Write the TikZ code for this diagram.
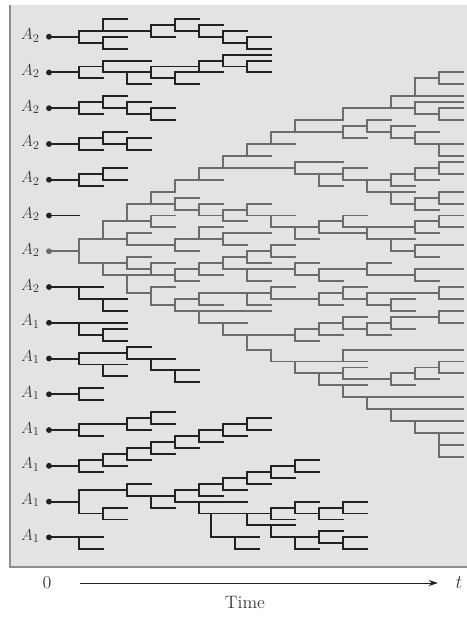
\documentclass[tikz,border=0pt]{standalone}
\usetikzlibrary{arrows.meta}
\definecolor{bgc}{HTML}{E3E3E3}
\definecolor{bordc}{HTML}{8E8E8E}
\definecolor{darkln}{HTML}{222222}
\definecolor{grayln}{HTML}{6C6C6C}
\definecolor{txtc}{HTML}{3A3A3A}
\tikzset{
  lnk/.style={line width=1.45pt, line cap=rect},
  dotn/.style={circle, fill=darkln, inner sep=0pt, minimum size=4.4pt},
  graydot/.style={circle, fill=grayln, inner sep=0pt, minimum size=4.4pt},
  lbl/.style={anchor=base east, inner sep=0pt, text=txtc, font=\fontsize{13}{15}\selectfont},
  axt/.style={text=txtc, font=\fontsize{13.5}{16}\selectfont, inner sep=0pt}
}
\begin{document}
\begin{tikzpicture}[x=0.75pt,y=-0.75pt]
\useasboundingbox (0,0) rectangle (467,618);
\fill[bgc] (10,5) rectangle (472,567);
\draw[bordc, line width=1.5pt] (10,5) -- (10,567) -- (472,567);
% dark lineages
\begin{scope}[color=darkln, lnk]
\foreach \xa/\xb/\yy in {
-1.25/0/0, 0/3/-1, 1/2/-3, 0/1/1, 1/2/0, 1/2/2, 3/4/-2, 3/4/0, 4/5/-3, 4/5/-1, 5/6/-2, 5/6/0, 6/7/-1, 6/7/1, 7/8/0, 7/8/2,
-1.25/0/6, 0/1/7, 0/1/5, 1/3/4, 1/2/6, 2/3/8, 2/3/6, 3/5/5, 3/4/7, 4/5/6, 4/5/8, 5/6/6, 5/6/4, 6/8/3, 6/7/5, 7/8/4, 7/8/6,
-1.25/0/12, 0/1/13, 0/1/11, 1/2/10, 1/2/12, 2/3/11, 2/3/13, 3/4/12, 3/4/14,
-1.25/0/18, 0/1/19, 0/1/17, 1/2/16, 1/2/18, 2/3/17, 2/3/19,
-1.25/0/24, 0/1/25, 0/1/23, 1/2/22, 1/2/24,
-1.25/0/30,
-1.25/0/42, 0/1/42, 0/2/44, 1/2/46,
-1.25/2/48, 0/1/50, 1/2/49, 1/2/51,
-1.25/0/54, 0/2/53, 2/3/52, 2/4/54, 3/5/56, 4/5/58, 0/1/55, 1/2/55, 1/2/57,
-1.25/0/60, 0/1/59, 0/1/61,
-1.25/0/66, 0/2/65, 0/1/67, 2/3/64, 2/3/66, 3/4/63, 3/4/65,
-1.25/0/72, 0/1/71, 0/1/73, 1/2/70, 1/2/72, 2/3/69, 2/3/71, 3/4/68, 3/4/70, 4/5/67, 4/5/69, 5/6/66, 5/6/68, 6/7/65, 6/7/67, 7/8/64, 7/8/66,
-1.25/0/78, 0/2/76, 2/3/75, 2/3/77, 3/4/77, 3/4/79, 4/5/76, 4/7/78, 5/6/75, 5/6/77, 6/7/74, 6/7/76, 7/8/73, 7/8/75, 8/9/72, 8/9/74, 9/10/71, 9/10/73, 0/1/80, 1/2/79, 1/2/81, 5/5.5/80, 5.5/7/80, 5.5/6.5/84, 6.5/7.5/84, 6.5/7.5/86, 7/8/80, 7/9/82, 8/9/79, 8/9/81, 9/10/78, 9/10/80, 10/11/79, 10/11/81, 11/12/78, 11/12/80, 8/9/84, 9/10/84, 9/10/86, 10/11/83, 10/11/85, 11/12/84, 11/12/86,
-1.25/0/84, 0/1/84, 0/1/86}
{\draw ({79+24*(\xa)},{36.7+5.96*(\yy)}) -- ({79+24*(\xb)},{36.7+5.96*(\yy)});}
\foreach \xc/\ya/\yb in {
0/-1/1, 1/-3/-1, 1/0/2, 3/-2/0, 4/-3/-1, 5/-2/0, 6/-1/1, 7/0/2,
0/5/7, 1/4/6, 2/6/8, 3/5/7, 4/6/8, 5/4/6, 6/3/5, 7/4/6,
0/11/13, 1/10/12, 2/11/13, 3/12/14,
0/17/19, 1/16/18, 2/17/19,
0/23/25, 1/22/24,
0/42/44, 1/44/46,
0/48/50, 1/49/51,
0/53/55, 2/52/54, 3/54/56, 4/56/58, 1/55/57,
0/59/61,
0/65/67, 2/64/66, 3/63/65,
0/71/73, 1/70/72, 2/69/71, 3/68/70, 4/67/69, 5/66/68, 6/65/67, 7/64/66,
0/76/80, 2/75/77, 3/77/79, 4/76/78, 5/75/77, 6/74/76, 7/73/75, 8/72/74, 9/71/73, 1/79/81, 5/78/80, 5.5/80/84, 6.5/84/86, 7/80/82, 8/79/81, 9/78/80, 10/79/81, 11/78/80, 8/82/84, 9/84/86, 10/83/85, 11/84/86,
0/84/86}
{\draw ({79+24*(\xc)},{36.7+5.96*(\ya)}) -- ({79+24*(\xc)},{36.7+5.96*(\yb)});}
\end{scope}
% gray lineage (the one that spreads)
\begin{scope}[color=grayln, lnk]
\foreach \xa/\xb/\yy in {
-1.25/0/36,
0/1/34, 1/2/31, 2/3/28, 3/4/26, 4/5/24, 5/6/22, 6/7/20, 7/8/18, 8/9/16, 9/11/14,
9/11/16, 8/9/18, 7/8/20, 6/9/22, 5/6/24,
3/4/28, 4/5/27, 4/5/29, 5/6/28, 5/6/30, 6/7/29, 6/7/31, 7/8/28, 7/8/30, 8/9/30, 8/9/32, 9/10/32, 9/10/34, 10/11/31, 10/12/33, 11/12/30, 11/14/32, 14/15/31, 15/16/30, 15/16/32, 14/15/33, 12/13/34, 13/14/34, 13/14/36, 14/16/35, 14/15/37,
2/3/31, 3/4/30, 3/4/32,
1/2/34, 2/3/33, 2/4/35, 4/6/34, 4/5/36, 5/6/32, 6/8/33, 6/7/35,
0/1/38, 1/2/38, 1/2/40, 2/3/37, 2/3/39, 2/3/40, 2/3/43, 3/4/38, 3/4/40, 3/4/42, 3/4/45,
4/5/39, 4/5/41, 5/6/38, 5/6/40, 6/7/37, 6/9/39, 7/8/36, 7/8/38, 8/9/35, 8/9/37, 7/8/41,
9/10/38, 9/10/40, 10/12/39, 10/11/41, 12/13/38, 12/14/40, 14/16/39, 14/15/41,
4/5/44, 4/8/46, 5/7/43, 7/8/43, 7/8/45, 5/6/45, 8/9/42, 8/10/44, 10/11/43, 10/11/45, 11/12/42, 11/12/44, 12/15/43, 15/16/42, 15/16/44, 12/13/45, 13/14/44, 13/14/46,
5/7/48, 6/9/50, 9/10/49, 9/10/51, 10/11/48, 10/11/50, 11/12/47, 11/12/49, 12/13/48, 12/13/50, 13/15/47, 15/16/46, 15/16/48, 13/14/49,
7/8/52.5, 8/12/54.5, 11/16/52.5, 9/11/56.5, 11/12/55.5, 11/13/57.5, 13/14/56.5, 14/15/55.5, 15/16/54.5, 15/16/56.5, 14/15/57.5, 13/14/58.5, 10/12/58.5, 11/16/60.5, 12/16/62.5, 13/16/64.5, 14/16/66.5, 15/16/68.5, 15/16/70.5,
9/11/21, 9/11/23, 10/11/25, 11/12/22, 11/12/24, 12/13/24, 13/14/23, 14/15/22, 15/16/21, 15/16/23, 14/15/24, 13/14/25, 12/13/26, 13/14/26, 13/14/28, 14/15/27, 15/16/26, 15/16/28, 14/15/29,
11/12/15, 11/12/17, 12/13/14, 12/13/16, 13/14/15, 13/14/17, 14/15/16, 14/16/18, 15/16/20,
11/13/12, 13/16/10, 13/14/12, 14/16/11, 14/15/13, 15/16/12, 15/16/14, 14/15/7, 15/16/6, 15/16/8}
{\draw ({79+24*(\xa)},{36.7+5.96*(\yy)}) -- ({79+24*(\xb)},{36.7+5.96*(\yy)});}
\foreach \xc/\ya/\yb in {
0/34/38, 1/31/34, 2/28/31, 3/26/28, 4/24/26, 5/22/24, 6/20/22, 7/18/20, 8/16/18, 9/14/16,
4/27/29, 5/28/30, 6/29/31, 7/28/30, 8/30/32, 9/32/34, 10/31/33, 11/30/32, 14/31/33, 15/30/32, 12/32/34, 13/34/36, 14/35/37,
3/30/32, 2/33/35, 4/34/36, 5/32/34, 6/33/35,
1/38/40, 2/37/39, 2/40/43, 3/38/40, 3/42/45, 4/39/41, 5/38/40, 6/37/39, 7/36/38, 8/35/37, 7/39/41,
9/38/40, 10/39/41, 12/38/40, 14/39/41,
4/44/46, 5/43/45, 7/43/45, 8/42/44, 10/43/45, 11/42/44, 12/43/45, 15/42/44, 13/44/46,
5/46/48, 6/48/50, 9/49/51, 10/48/50, 11/47/49, 12/48/50, 13/47/49, 15/46/48,
7/50/52.5, 8/52.5/54.5, 11/52.5/54.5, 9/54.5/56.5, 11/55.5/57.5, 13/56.5/58.5, 14/55.5/57.5, 15/54.5/56.5, 10/56.5/58.5, 11/58.5/60.5, 12/60.5/62.5, 13/62.5/64.5, 14/64.5/66.5, 15/66.5/70.5,
9/21/23, 10/23/25, 11/22/24, 12/24/26, 13/23/25, 14/22/24, 15/21/23, 13/26/28, 14/27/29, 15/26/28,
11/15/17, 12/14/16, 13/15/17, 14/16/18, 15/18/20,
11/12/14, 13/10/12, 14/11/13, 15/12/14, 14/7/10, 15/6/8}
{\draw ({79+24*(\xc)},{36.7+5.96*(\ya)}) -- ({79+24*(\xc)},{36.7+5.96*(\yb)});}
\end{scope}
% founding dots and labels
\foreach \k/\s in {0/2,1/2,2/2,3/2,4/2,5/2,7/2,8/1,9/1,10/1,11/1,12/1,13/1,14/1}
{\node[dotn] (d\k) at (49,{36.7+35.76*\k}) {};
 \node[lbl] (L\k) at (40,{36.7+35.76*\k+3}) {$A_{\s}$};}
\node[graydot] (d6) at (49,{36.7+35.76*6}) {};
\node[lbl] (L6) at (40,{36.7+35.76*6+3}) {$A_{2}$};
% time axis
\node[axt] (zero) at (47,583) {0};
\coordinate (ax0) at (80,583);
\coordinate (ax1) at (438,583);
\draw[darkln, line width=0.7pt, -{Stealth[length=7pt,width=4.5pt]}] (ax0) -- (ax1);
\node[axt] (tlab) at (459,583) {$t$};
\node[axt] (timelab) at (245,602) {Time};
\end{tikzpicture}
\end{document}
